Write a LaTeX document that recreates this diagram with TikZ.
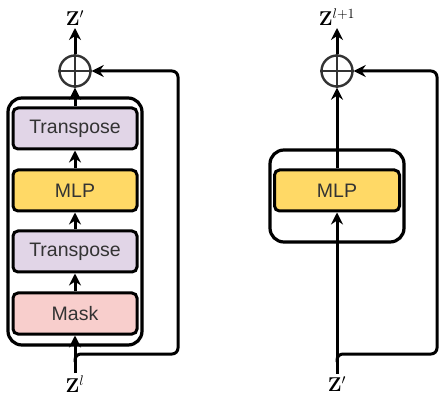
\documentclass[tikz,border=0pt]{standalone}
\usepackage{fix-cm}
\usepackage[no-math]{fontspec}
\setmainfont{Liberation Sans}
\usetikzlibrary{arrows.meta,shadows}
\definecolor{purp}{HTML}{E1D5E7}
\definecolor{yel}{HTML}{FFD966}
\definecolor{pinkred}{HTML}{F8CECC}
\definecolor{txt}{HTML}{333333}
\newcommand{\supsz}[1]{\mbox{\fontsize{14}{16}\selectfont$#1$}}
\begin{document}
\begin{tikzpicture}[x=1pt,y=-1pt,
  >={Stealth[length=12pt,width=12pt,inset=4pt]},
  line width=3pt,
  outerbox/.style={draw, rounded corners=14pt, line width=3.2pt, fill=white,
    drop shadow={opacity=0.2, shadow xshift=1.5pt, shadow yshift=-1.5pt}},
  blk/.style={draw, rounded corners=5pt, line width=3pt, minimum height=41pt,
    text=txt, font=\fontsize{19.5}{22}\selectfont, inner sep=0pt},
  addc/.style={circle, draw=txt, line width=2.4pt, minimum size=31pt, inner sep=0pt},
  lbl/.style={inner sep=1pt, font=\fontsize{20}{22}\selectfont},
  flow/.style={->, line width=3pt},
  skip/.style={->, rounded corners=6pt, line width=3pt}]
\useasboundingbox (0,0) rectangle (439,403);

% left block
\node[outerbox, minimum width=134pt, minimum height=247pt] (outL) at (75,221.5) {};
\node[blk, fill=purp, minimum width=124pt] (t1) at (75,128.5) {Transpose};
\node[blk, fill=yel, minimum width=124pt] (mlpL) at (75,190.5) {MLP};
\node[blk, fill=purp, minimum width=124pt] (t2) at (75,251.5) {Transpose};
\node[blk, fill=pinkred, minimum width=124pt] (mask) at (75,313.5) {Mask};
\node[addc] (cL) at (75,71) {};
\draw[txt, line width=2.4pt] (cL.north) -- (cL.south) (cL.west) -- (cL.east);
\node[lbl, anchor=south] (zout) at (75,28) {$\mathbf{Z}^{\supsz{\prime}}$};
\node[lbl] (zin) at (75,384) {$\mathbf{Z}^{\supsz{l}}$};
\coordinate (jL) at (75,362);

\draw[flow] (zin.north) -- (mask.south);
\draw[flow] (mask.north) -- (t2.south);
\draw[flow] (t2.north) -- (mlpL.south);
\draw[flow] (mlpL.north) -- (t1.south);
\draw[flow] (t1.north) -- (cL.south);
\draw[flow] (cL.north) -- (zout.south);
\draw[skip] (jL) -- (75,354) -- (178,354) -- (178,71) -- (cL.east);

% right block
\node[outerbox, minimum width=134pt, minimum height=92pt] (outR) at (337,196) {};
\node[blk, fill=yel, minimum width=125pt] (mlpR) at (337,190.5) {MLP};
\node[addc] (cR) at (337,71) {};
\draw[txt, line width=2.4pt] (cR.north) -- (cR.south) (cR.west) -- (cR.east);
\node[lbl, anchor=south] (zout2) at (337,28) {$\mathbf{Z}^{\supsz{l{+}1}}$};
\node[lbl] (zin2) at (337,384) {$\mathbf{Z}^{\supsz{\prime}}$};
\coordinate (jR) at (337,362);

\draw[flow] (zin2.north) -- (mlpR.south);
\draw[flow] (mlpR.north) -- (cR.south);
\draw[flow] (cR.north) -- (zout2.south);
\draw[skip] (jR) -- (337,354) -- (437,354) -- (437,71) -- (cR.east);
\end{tikzpicture}
\end{document}
